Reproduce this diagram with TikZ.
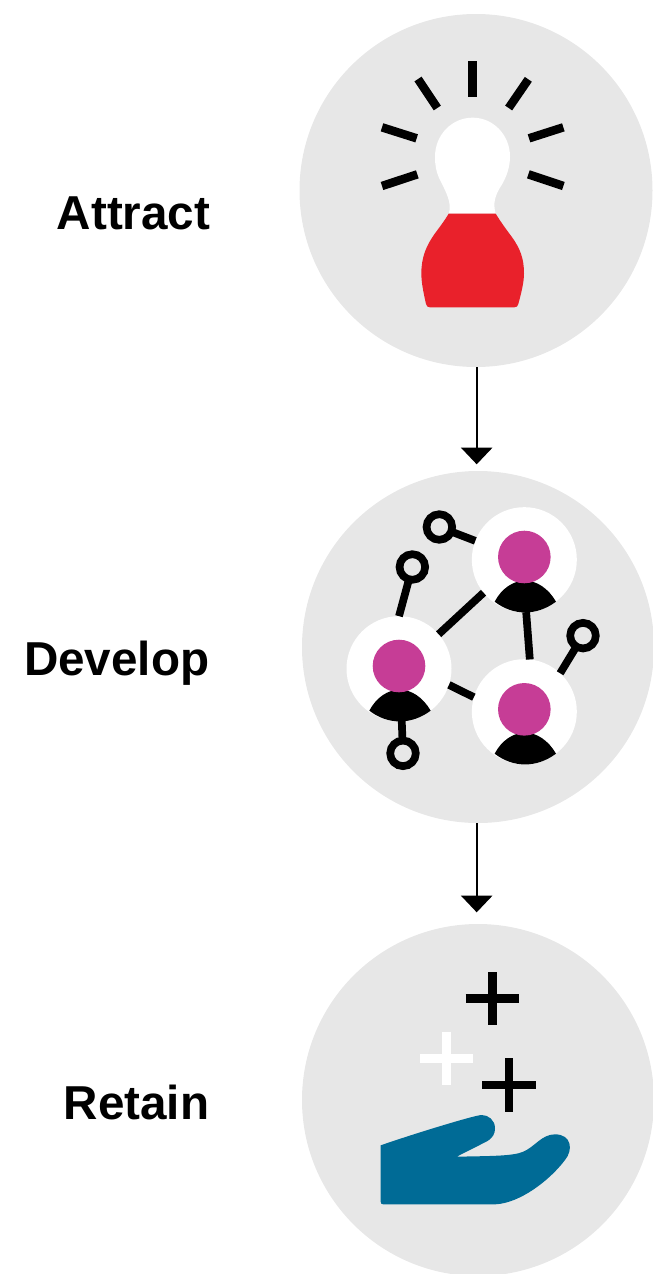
\documentclass[tikz,border=0pt]{standalone}
\usepackage{fontspec}
\setmainfont{Liberation Sans}
\definecolor{disc}{HTML}{E7E7E7}
\definecolor{bulbred}{HTML}{E9212B}
\definecolor{pink}{HTML}{C63D96}
\definecolor{handblue}{HTML}{006B96}
\usetikzlibrary{arrows.meta}
\tikzset{
  disc/.style={circle,fill=disc,minimum size=#1,inner sep=0,outer sep=0},
  lab/.style={font=\fontsize{47.6}{52}\selectfont\bfseries,anchor=base east,inner sep=0},
  flow/.style={line width=2.3pt,-{Triangle[width=31pt,length=16.6pt]}},
  ray/.style={line width=8.5pt},
  person/.style={circle,fill=white,minimum size=105pt,inner sep=0,outer sep=0},
  face/.style={circle,fill=pink,minimum size=52.6pt,inner sep=0,outer sep=0},
  ring/.style={circle,draw=black,line width=7.7pt,minimum size=25.6pt,inner sep=0,outer sep=0},
  link/.style={line width=7.7pt},
  plusbar/.style={line width=8.5pt},
}
\begin{document}
\begin{tikzpicture}[x=1pt,y=-1pt]
\useasboundingbox (0,0) rectangle (653,1274);
\clip (0,0) rectangle (653,1274);
\node[disc=353pt] (attract) at (476,190.5) {};
\node[disc=352pt] (develop) at (478,647) {};
\node[disc=352pt] (retain) at (478,1100) {};
\node[lab] (tattract) at (210.5,229) {Attract};
\node[lab] (tdevelop) at (209.5,675) {Develop};
\node[lab] (tretain) at (209.5,1119) {Retain};
\coordinate (axis) at (476.7,0);
\draw[flow,shorten >=6.7pt] (axis |- attract.south) -- (axis |- develop.north);
\draw[flow,shorten >=11.7pt] (axis |- develop.south) -- (axis |- retain.north);
% bulb
\begin{scope}[shift={(360,40)},scale=1/3]
\draw[ray] (338,63) -- (338,170);
\draw[ray] (174,117) -- (232,204);
\draw[ray] (505,118) -- (446,204);
\draw[ray] (66,262) -- (170,295);
\draw[ray] (66,438) -- (172,403);
\draw[ray] (610,262) -- (507,295);
\draw[ray] (610,438) -- (505,403);
\fill[white] (266,521) .. controls (278,490) and (255,450) .. (240,420)
  .. controls (228,395) and (225,375) .. (225,350)
  .. controls (225,285) and (275,233) .. (338,233)
  .. controls (400,233) and (450,285) .. (450,350)
  .. controls (450,380) and (440,410) .. (425,435)
  .. controls (405,465) and (398,490) .. (407,521) -- cycle;
\fill[bulbred] (266,521) -- (407,521)
  .. controls (425,550) and (440,570) .. (455,590)
  .. controls (480,625) and (492,655) .. (492,700)
  .. controls (492,730) and (482,765) .. (475,792)
  .. controls (473,799) and (470,802) .. (463,802)
  -- (210,802) .. controls (203,802) and (200,799) .. (198,792)
  .. controls (192,765) and (184,730) .. (184,700)
  .. controls (184,650) and (200,615) .. (225,580)
  .. controls (240,560) and (255,540) .. cycle;
\end{scope}
% network
\begin{scope}[shift={(330,490)},scale=1/3]
\node[person] (p1) at (583,209) {};
\node[person] (p2) at (207,536) {};
\node[person] (p3) at (583,665) {};
\node[ring] (r1) at (328,111) {};
\node[ring] (r2) at (247,231) {};
\node[ring] (r3) at (219,790) {};
\node[ring] (r4) at (759,437) {};
\draw[link] (r1) -- (p1.159);
\draw[link] (r2) -- (p2.90);
\draw[link] (r3) -- (p2.273);
\draw[link] (r4) -- (p3.47.6);
\draw[link] (p1.219) -- (p2.41);
\draw[link] (p1.272.6) -- (p3.84.5);
\draw[link] (p2.342) -- (p3.164);
\foreach \px/\py in {583/209,207/536,583/665}{
  \begin{scope}[shift={(\px-583,\py-209)}]
  \fill[black] (494,335) .. controls (515,295) and (550,272) .. (585,272)
    .. controls (620,272) and (655,295) .. (678,335)
    .. controls (620,378) and (550,378) .. cycle;
  \end{scope}
}
\node[face] (f1) at (583,201) {};
\node[face] (f2) at (207,528) {};
\node[face] (f3) at (583,658) {};
\end{scope}
% hand
\begin{scope}[shift={(360,960)},scale=1/3]
\draw[plusbar] (397,36) -- (397,196) (317,116) -- (477,116);
\draw[plusbar,white] (260,215) -- (260,375) (180,295) -- (340,295);
\draw[plusbar] (447,295) -- (447,455) (367,375) -- (527,375);
\fill[handblue] (62,556) -- (62,725) .. controls (62,731) and (65,733) .. (70,733)
  -- (405,733) .. controls (480,730) and (570,660) .. (615,600)
  .. controls (640,570) and (635,523) .. (585,523)
  .. controls (545,523) and (525,560) .. (490,575)
  .. controls (460,588) and (400,588) .. (290,590)
  -- (375,547) .. controls (400,535) and (405,520) .. (405,505)
  .. controls (405,480) and (385,465) .. (365,465)
  .. controls (345,465) and (150,525) .. (62,556) -- cycle;
\end{scope}
\end{tikzpicture}
\end{document}
